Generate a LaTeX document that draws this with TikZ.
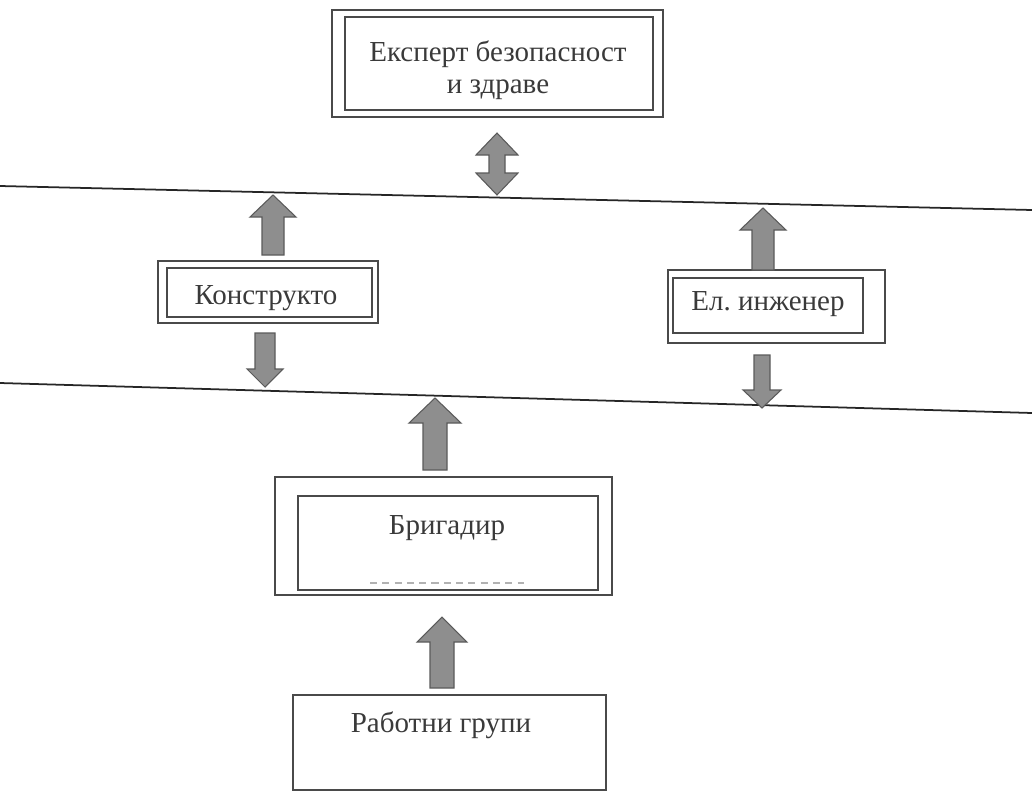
\documentclass[tikz,border=0pt]{standalone}
\usepackage{fontspec}
\setmainfont{Liberation Serif}
\frenchspacing
\definecolor{boxline}{HTML}{4A4A4A}
\definecolor{txt}{HTML}{3A3A3A}
\definecolor{arrfill}{HTML}{8E8E8E}
\definecolor{arrline}{HTML}{5A5A5A}
\tikzset{
  boxo/.style={draw=boxline, line width=0.9pt},
  boxi/.style={draw=boxline, line width=0.7pt},
  lbl/.style={text=txt, font=\fontsize{16.5}{18.5}\selectfont, align=center},
  blockarr/.style={fill=arrfill, draw=arrline, line width=0.6pt, line join=miter},
  sep/.style={draw=black!85, line width=1pt}
}
% up arrow: x, tip y, bottom y, shaft half, head half, head length
\newcommand\blkup[6]{%
  \draw[blockarr] (#1,#2) -- ({#1+#5},{#2+#6}) -- ({#1+#4},{#2+#6}) -- ({#1+#4},#3)
    -- ({#1-#4},#3) -- ({#1-#4},{#2+#6}) -- ({#1-#5},{#2+#6}) -- cycle;}
% down arrow: x, top y, tip y, shaft half, head half, head length
\newcommand\blkdown[6]{%
  \draw[blockarr] (#1,#3) -- ({#1+#5},{#3-#6}) -- ({#1+#4},{#3-#6}) -- ({#1+#4},#2)
    -- ({#1-#4},#2) -- ({#1-#4},{#3-#6}) -- ({#1-#5},{#3-#6}) -- cycle;}
\begin{document}
\begin{tikzpicture}[x=0.02cm, y=-0.02cm]
\useasboundingbox (0,0) rectangle (1032,795);
% separator lines
\draw[sep] (0,186) coordinate (l1a) -- (1032,210) coordinate (l1b);
\draw[sep] (0,383) coordinate (l2a) -- (1032,413) coordinate (l2b);
% Expert box
\draw[boxo] (332,10) rectangle (663,117);
\draw[boxi] (345,17) rectangle (653,110);
\node[lbl] (expert) at (498,70) {Експерт безопасност\\и здраве};
% double arrow
\draw[blockarr] (497,133) -- (518,155) -- (505,155) -- (505,173) -- (518,173) -- (497,195)
  -- (476,173) -- (489,173) -- (489,155) -- (476,155) -- cycle;
% Konstrukto
\draw[boxo] (158,261) rectangle (378,323);
\draw[boxi] (167,268) rectangle (372,317);
\node[lbl] (konstr) at (266,298) {Конструкто};
\blkup{273}{195}{255}{11}{23}{22}
\blkdown{265}{333}{387}{10}{18}{18}
% El. inzhener
\draw[boxo] (668,270) rectangle (885,343);
\draw[boxi] (673,278) rectangle (863,333);
\node[lbl] (elinz) at (768,304) {Ел. инженер};
\blkup{763}{208}{270}{11}{23}{22}
\blkdown{762}{355}{408}{8}{19}{18}
% Brigadir
\blkup{435}{398}{470}{12}{26}{25}
\draw[boxo] (275,477) rectangle (612,595);
\draw[boxi] (298,496) rectangle (598,590);
\node[lbl] (brig) at (447,528) {Бригадир};
\draw[gray!60, line width=0.6pt, dash pattern=on 4pt off 3pt] (370,583) -- (524,583);
% Rabotni grupi
\blkup{442}{617}{688}{12}{25}{25}
\draw[boxo] (293,695) rectangle (606,790);
\node[lbl] (rab) at (441,725) {Работни групи};
\end{tikzpicture}
\end{document}
